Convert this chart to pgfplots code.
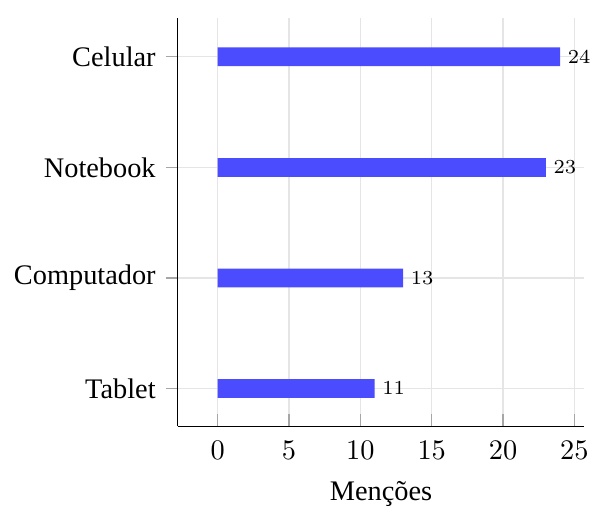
\documentclass[border=0pt]{standalone}
\usepackage{fontspec}
\setmainfont{Liberation Serif}
\usepackage{pgfplots}
\pgfplotsset{compat=1.18}
\begin{document}
\begin{tikzpicture}
\begin{axis}[
  scale only axis,
  width=143.5pt, height=144pt,
  axis lines*=left,
  xbar, bar width=6.6pt,
  xmin=-2.8, xmax=25.7,
  ymin=-0.34, ymax=3.35,
  xtick={0,5,10,15,20,25},
  ytick={0,1,2,3},
  yticklabels={Tablet,Computador,Notebook,Celular},
  ytick align=outside,
  xtick align=inside,
  tick style={gray!70, thin},
  grid=major,
  major grid style={gray!20, thin},
  xticklabel style={yshift=-1.8pt},
  xlabel={Menções},
  xlabel style={yshift=-1pt},
  nodes near coords={\hspace*{1.5pt}\pgfmathprintnumber{\pgfplotspointmeta}},
  nodes near coords style={font=\scriptsize, inner xsep=1pt, /pgf/number format/assume math mode=false},
]
\addplot[draw=none, fill=blue!70] coordinates {(11,0) (13,1) (23,2) (24,3)};
\end{axis}
\path ([yshift=6.4pt]current axis.north);
\path (current bounding box.west) ++(-1.6pt,0);
\end{tikzpicture}
\end{document}
